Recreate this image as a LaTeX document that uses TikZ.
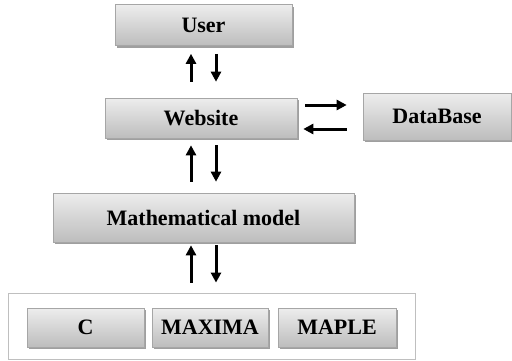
\documentclass[tikz,border=0pt]{standalone}
\usepackage{fontspec}
\setmainfont{Liberation Serif}
\usetikzlibrary{shadows,arrows.meta}
\begin{document}
\begin{tikzpicture}[x=1pt,y=-1pt,
  box/.style={draw=gray!70, line width=0.6pt, top color=gray!14, bottom color=gray!52,
    drop shadow={shadow xshift=2pt, shadow yshift=-2pt, fill=gray!75, opacity=1},
    font=\bfseries\fontsize{22}{26}\selectfont, inner sep=0pt},
  arr/.style={line width=3pt, -{Triangle[length=10pt,width=10pt]}}]
\useasboundingbox (0,0) rectangle (512,360);
\node[draw=gray!50, line width=0.8pt, minimum width=407pt, minimum height=66pt] (outer) at (211.5,326) {};
\node[box, minimum width=177pt, minimum height=41pt] (user) at (203.5,25) {User};
\node[box, minimum width=192pt, minimum height=40pt] (web) at (201,118) {Website};
\node[box, minimum width=148pt, minimum height=47pt] (db) at (437,116.5) {DataBase};
\node[box, minimum width=301pt, minimum height=49pt] (math) at (203.5,217.5) {Mathematical model};
\node[box, minimum width=117pt, minimum height=39pt] (c) at (85.5,327.5) {C};
\node[box, minimum width=116pt, minimum height=39pt] (maxima) at (210,327.5) {MAXIMA};
\node[box, minimum width=118pt, minimum height=39pt] (maple) at (337,327.5) {MAPLE};
\coordinate (ua) at (191,0);
\coordinate (da) at (216,0);
\coordinate (ra) at (0,105);
\coordinate (la) at (0,129);
% user <-> website
\draw[arr, shorten <=16pt, shorten >=8pt] (web.north -| ua) -- (user.south -| ua);
\draw[arr, shorten <=8pt, shorten >=16pt] (user.south -| da) -- (web.north -| da);
% website <-> math
\draw[arr, shorten <=11pt, shorten >=7pt] (math.north -| ua) -- (web.south -| ua);
\draw[arr, shorten <=7pt, shorten >=11pt] (web.south -| da) -- (math.north -| da);
% math <-> tools
\draw[arr, shorten <=10pt, shorten >=3pt] (outer.north -| ua) -- (math.south -| ua);
\draw[arr, shorten <=3pt, shorten >=10pt] (math.south -| da) -- (outer.north -| da);
% website <-> database
\draw[arr, shorten <=8pt, shorten >=16pt] (web.east |- ra) -- (db.west |- ra);
\draw[arr, shorten <=16pt, shorten >=6pt] (db.west |- la) -- (web.east |- la);
\end{tikzpicture}
\end{document}
